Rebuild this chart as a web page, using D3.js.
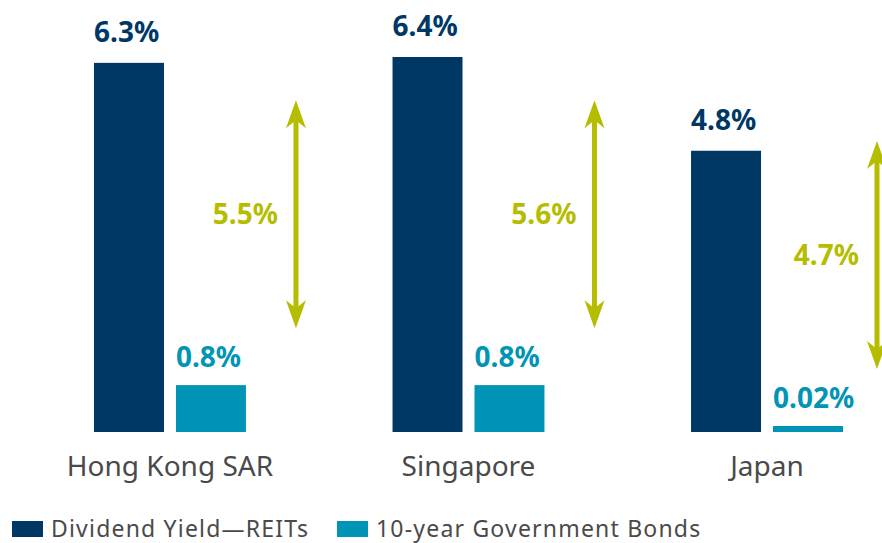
<!DOCTYPE html>
<html>
<head>
<meta charset="utf-8">
<script src="https://cdn.jsdelivr.net/npm/d3@7"></script>
<style>
  body { margin: 0; background: #fff; }
  svg text { font-family: "Noto Sans", sans-serif; }
</style>
</head>
<body>
<svg id="chart" width="882" height="543"></svg>
<script>
"use strict";

var categories = ["Hong Kong SAR", "Singapore", "Japan"];
var reitYield = [6.3, 6.4, 4.8];
var bondYield = [0.8, 0.8, 0.02];
var spreadLabels = ["5.5%", "5.6%", "4.7%"];
var reitLabels = ["6.3%", "6.4%", "4.8%"];
var bondLabels = ["0.8%", "0.8%", "0.02%"];
var seriesNames = ["Dividend Yield\u2014REITs", "10-year Government Bonds"];

var navy = "#003865", teal = "#0095b6", olive = "#b5bd00", grey = "#4a4a4a";

var svg = d3.select("#chart"),
  width = 882,
  baseline = 432,
  minBar = 6,
  arrowLen = 228
;

var data = categories.map(function(c, i) {
  return { name: c, reit: reitYield[i], bond: bondYield[i], spread: spreadLabels[i],
    reitLabel: reitLabels[i], bondLabel: bondLabels[i] };
});

var x0 = d3.scaleBand().domain(categories).range([94, 843]).paddingInner(0.491),
  x1 = d3.scaleBand().domain(["reit", "bond"]).range([0, x0.bandwidth()]).paddingInner(0.1463),
  y = d3.scaleLinear().domain([0, 6.4]).range([baseline, 57])
;

// keep tiny values visible
function yTop(v) { return Math.min(y(v), baseline - minBar); }

var g = svg.selectAll("g.group")
  .data(data)
  .enter()
  .append("g")
  .attr("class", "group")
  .attr("transform", function(d) { return "translate(" + x0(d.name) + ",0)"; });

// REIT bars
g.append("rect")
  .attr("x", x1("reit"))
  .attr("y", function(d) { return yTop(d.reit); })
  .attr("width", x1.bandwidth())
  .attr("height", function(d) { return baseline - yTop(d.reit); })
  .attr("fill", navy);

g.append("text")
  .attr("x", x1("reit"))
  .attr("y", function(d) { return yTop(d.reit) - 21; })
  .attr("fill", navy)
  .attr("font-size", 28)
  .attr("font-weight", 700)
  .text(function(d) { return d.reitLabel; });

// bond bars
g.append("rect")
  .attr("x", x1("bond"))
  .attr("y", function(d) { return yTop(d.bond); })
  .attr("width", x1.bandwidth())
  .attr("height", function(d) { return baseline - yTop(d.bond); })
  .attr("fill", teal);

g.append("text")
  .attr("x", x1("bond"))
  .attr("y", function(d) { return yTop(d.bond) - 18; })
  .attr("fill", teal)
  .attr("font-size", 28)
  .attr("font-weight", 700)
  .text(function(d) { return d.bondLabel; });

// category labels
g.append("text")
  .attr("x", x0.bandwidth() / 2)
  .attr("y", 476)
  .attr("text-anchor", "middle")
  .attr("fill", grey)
  .attr("font-size", 28)
  .text(function(d) { return d.name; });

// spread arrows
function arrowPath(top, bottom) {
  var hl = 28, hw = 10, notch = 20;
  return "M0," + top +
    "L" + hw + "," + (top + hl) + "L0," + (top + notch) + "L" + (-hw) + "," + (top + hl) + "Z" +
    "M0," + bottom +
    "L" + hw + "," + (bottom - hl) + "L0," + (bottom - notch) + "L" + (-hw) + "," + (bottom - hl) + "Z";
}
function arrowBottom(d) { return yTop(d.bond) - 57; }
function arrowTop(d) { return arrowBottom(d) - arrowLen; }

var arrows = g.append("g")
  .attr("transform", function(d) {
    var ax = Math.min(x0.bandwidth() + 50, width - 5 - x0(d.name));
    return "translate(" + ax + ",0)";
  });

arrows.append("line")
  .attr("x1", 0).attr("x2", 0)
  .attr("y1", function(d) { return arrowTop(d) + 12; })
  .attr("y2", function(d) { return arrowBottom(d) - 12; })
  .attr("stroke", olive)
  .attr("stroke-width", 5);

arrows.append("path")
  .attr("d", function(d) { return arrowPath(arrowTop(d), arrowBottom(d)); })
  .attr("fill", olive);

arrows.append("text")
  .attr("x", -18)
  .attr("y", function(d) { return (arrowTop(d) + arrowBottom(d)) / 2 + 10; })
  .attr("text-anchor", "end")
  .attr("fill", olive)
  .attr("font-size", 28)
  .attr("font-weight", 700)
  .text(function(d) { return d.spread; });

// legend
var legend = svg.append("g").attr("transform", "translate(12,521)");
var legendX = [0, 325];
[navy, teal].forEach(function(col, i) {
  var item = legend.append("g").attr("transform", "translate(" + legendX[i] + ",0)");
  item.append("rect").attr("width", 31).attr("height", 16).attr("fill", col);
  item.append("text")
    .attr("x", 39)
    .attr("y", 16)
    .attr("fill", grey)
    .attr("font-size", 23)
    .attr("letter-spacing", 1.2)
    .text(seriesNames[i]);
});
</script>
</body>
</html>
